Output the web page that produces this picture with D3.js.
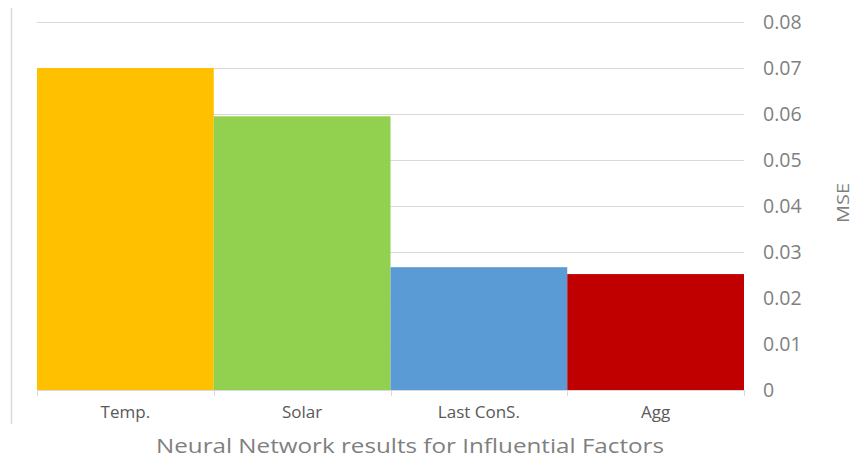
<!DOCTYPE html>
<html>
<head>
<meta charset="utf-8">
<script src="https://cdn.jsdelivr.net/npm/d3@7"></script>
<style>
  html, body { margin: 0; padding: 0; background: #fff; }
  svg { display: block; font-family: "Open Sans", "Noto Sans", sans-serif; }
</style>
</head>
<body>
<svg id="chart" width="857" height="459"></svg>
<script>
// MSE per influential factor
const categories = ["Temp.", "Solar", "Last ConS.", "Agg"];
const mseValues = [0.070, 0.0595, 0.0267, 0.0252];
const barColors = ["#ffc000", "#92d050", "#5b9bd5", "#c00000"];
const yTicks = [0, 0.01, 0.02, 0.03, 0.04, 0.05, 0.06, 0.07, 0.08];
const tickLabels = ["0", "0.01", "0.02", "0.03", "0.04", "0.05", "0.06", "0.07", "0.08"];

const svg = d3.select("#chart");
const margin = { left: 37, right: 113, top: 22, bottom: 69 };
const W = 857, H = 459;

const x = d3.scaleBand()
  .domain(categories)
  .range([margin.left, W - margin.right])
  .padding(0);

const y = d3.scaleLinear()
  .domain([0, 0.08])
  .range([H - margin.bottom, margin.top]);

// outer frame line on the left
svg.append("line")
  .attr("x1", 11.5).attr("x2", 11.5)
  .attr("y1", 8).attr("y2", 424)
  .attr("stroke", "#d9d9d9").attr("stroke-width", 1.5);

// horizontal gridlines
svg.append("g")
  .selectAll("line")
  .data(yTicks.filter(d => d > 0))
  .join("line")
  .attr("x1", margin.left).attr("x2", W - margin.right)
  .attr("y1", d => Math.round(y(d)) + 0.5).attr("y2", d => Math.round(y(d)) + 0.5)
  .attr("stroke", "#d9d9d9").attr("stroke-width", 1);

// bars
svg.append("g")
  .selectAll("rect")
  .data(categories)
  .join("rect")
  .attr("x", d => x(d))
  .attr("width", x.bandwidth())
  .attr("y", (d, i) => y(mseValues[i]))
  .attr("height", (d, i) => y(0) - y(mseValues[i]))
  .attr("fill", (d, i) => barColors[i]);

// category axis
const xAxis = svg.append("g")
  .attr("transform", `translate(0,${y(0)})`);
xAxis.append("line")
  .attr("x1", margin.left).attr("x2", W - margin.right)
  .attr("y1", 0.5).attr("y2", 0.5)
  .attr("stroke", "#d9d9d9");
const boundaries = categories.map(c => x(c)).concat([x(categories[categories.length - 1]) + x.bandwidth()]);
xAxis.selectAll("line.tick")
  .data(boundaries)
  .join("line")
  .attr("class", "tick")
  .attr("x1", d => Math.round(d) + 0.5).attr("x2", d => Math.round(d) + 0.5)
  .attr("y1", 0).attr("y2", 6)
  .attr("stroke", "#d9d9d9");
xAxis.selectAll("text")
  .data(categories)
  .join("text")
  .attr("x", d => x(d) + x.bandwidth() / 2)
  .attr("y", 28)
  .attr("text-anchor", "middle")
  .attr("font-size", 17)
  .attr("fill", "#595959")
  .text(d => d);

// value axis on the right
svg.append("g")
  .selectAll("text")
  .data(yTicks)
  .join("text")
  .attr("x", 763)
  .attr("y", d => y(d))
  .attr("dy", "0.36em")
  .attr("font-size", 19.5)
  .attr("fill", "#7f7f7f")
  .text((d, i) => tickLabels[i]);

// axis title
svg.append("text")
  .attr("transform", `translate(843,${y(0.04) - 3}) rotate(-90)`)
  .attr("text-anchor", "middle")
  .attr("dy", "0.36em")
  .attr("font-size", 15.5)
  .attr("textLength", 40)
  .attr("lengthAdjust", "spacingAndGlyphs")
  .attr("fill", "#7f7f7f")
  .text("MSE");

// chart title
svg.append("text")
  .attr("x", 410)
  .attr("y", 453)
  .attr("text-anchor", "middle")
  .attr("font-size", 20)
  .attr("textLength", 508)
  .attr("lengthAdjust", "spacingAndGlyphs")
  .attr("fill", "#7f7f7f")
  .text("Neural Network results for Influential Factors");
</script>
</body>
</html>
